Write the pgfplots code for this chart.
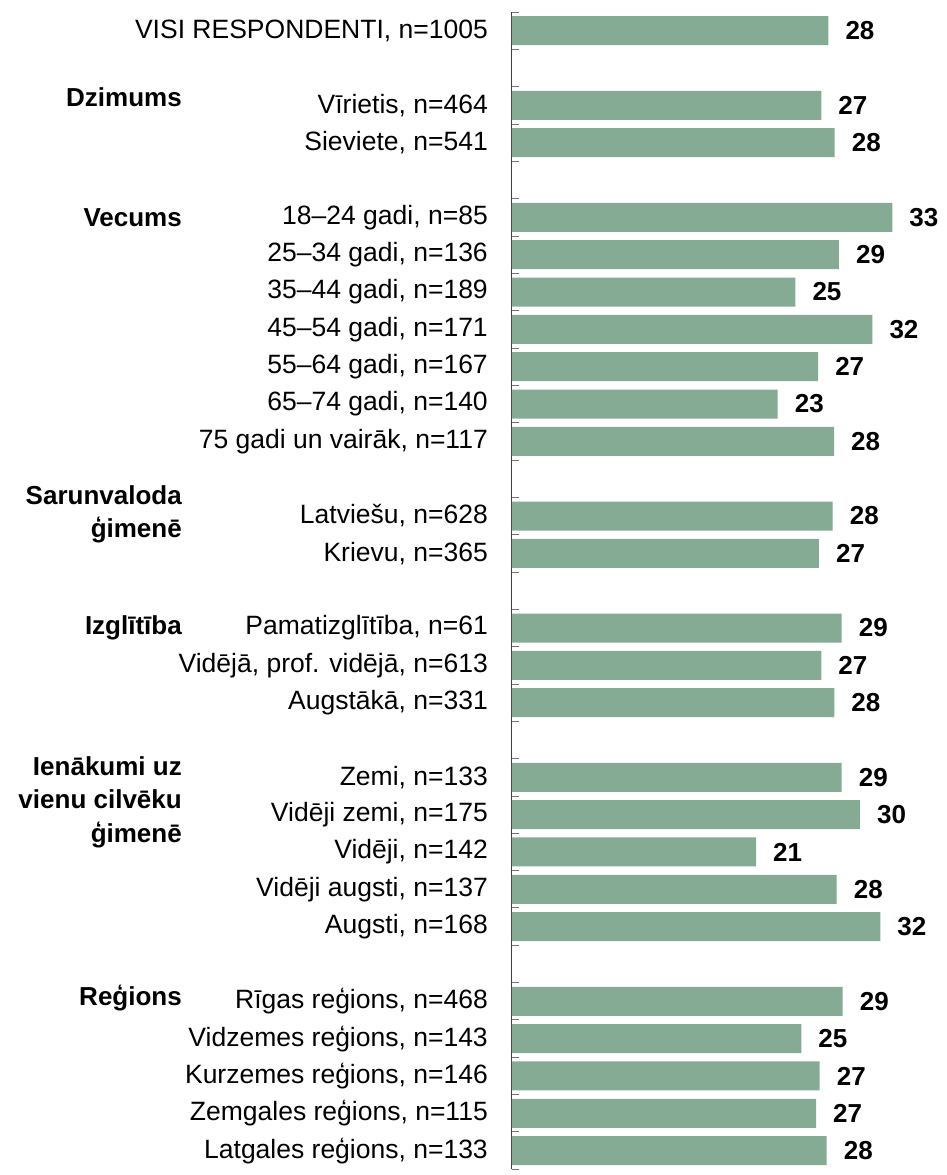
\documentclass[border=0pt]{standalone}
\usepackage{pgfplots}
\pgfplotsset{compat=1.18}
\usepackage{pgfplotstable}
\usepackage{fontspec}
\setmainfont{Liberation Sans}
\definecolor{barc}{HTML}{85AB95}
\pgfplotstableread{
y v lab
0 27.70 28
2 27.08 27
3 28.26 28
5 33.30 33
6 28.63 29
7 24.81 25
8 31.55 32
9 26.80 27
10 23.27 23
11 28.20 28
13 28.08 28
14 26.88 27
16 28.87 29
17 27.08 27
18 28.22 28
20 28.87 29
21 30.47 30
22 21.37 21
23 28.43 28
24 32.25 32
26 28.96 29
27 25.33 25
28 26.94 27
29 26.62 27
30 27.56 28
}\data
\begin{document}
\begin{tikzpicture}
\useasboundingbox (0,0) rectangle (947pt,-1175pt);
\begin{axis}[
  at={(512pt,-12pt)}, anchor=north west,
  scale only axis, width=433.96pt, height=1157.33pt,
  xmin=0, xmax=38, ymin=-0.5, ymax=30.5, y dir=reverse,
  xbar, clip=false,
  axis x line=none, axis y line*=left,
  axis line style={draw=black!75, line width=1pt},
  ytick={0,2,3,5,6,7,8,9,10,11,13,14,16,17,18,20,21,22,23,24,26,27,28,29,30},
  yticklabels={VISI RESPONDENTI{,} n=1005,
    Vīrietis{,} n=464, Sieviete{,} n=541,
    18–24 gadi{,} n=85, 25–34 gadi{,} n=136, 35–44 gadi{,} n=189, 45–54 gadi{,} n=171, 55–64 gadi{,} n=167, 65–74 gadi{,} n=140, 75 gadi un vairāk{,} n=117,
    Latviešu{,} n=628, Krievu{,} n=365,
    Pamatizglītība{,} n=61, Vidējā{,} prof. vidējā{,} n=613, Augstākā{,} n=331,
    Zemi{,} n=133, Vidēji zemi{,} n=175, Vidēji{,} n=142, Vidēji augsti{,} n=137, Augsti{,} n=168,
    Rīgas reģions{,} n=468, Vidzemes reģions{,} n=143, Kurzemes reģions{,} n=146, Zemgales reģions{,} n=115, Latgales reģions{,} n=133},
  major tick length=0pt,
  minor ytick={-0.5,0.5,...,30.5},
  minor tick length=7pt, tick align=inside,
  minor tick style={draw=black!55, line width=1pt},
  yticklabel style={font=\fontsize{26.5}{32}\selectfont, anchor=east, inner sep=0pt, xshift=-24pt},
]
\addplot[fill=barc, draw=none, bar width=29pt,
  nodes near coords, point meta=explicit symbolic,
  nodes near coords style={font=\bfseries\fontsize{26}{30}\selectfont, anchor=west, inner sep=0pt, xshift=17pt}]
  table[x=v, y=y, meta=lab] {\data};
\begin{scope}[every node/.style={anchor=east, align=right, inner sep=0pt, xshift=-330pt, font=\bfseries\fontsize{26}{33.5}\selectfont}]
\node at (axis cs:0,1.78) {Dzimums};
\node at (axis cs:0,5) {Vecums};
\node at (axis cs:0,12.95) {Sarunvaloda\\ģimenē};
\node at (axis cs:0,16) {Izglītība};
\node at (axis cs:0,20.66) {Ienākumi uz\\vienu cilvēku\\ģimenē};
\node at (axis cs:0,25.9) {Reģions};
\end{scope}
\end{axis}
\end{tikzpicture}
\end{document}
